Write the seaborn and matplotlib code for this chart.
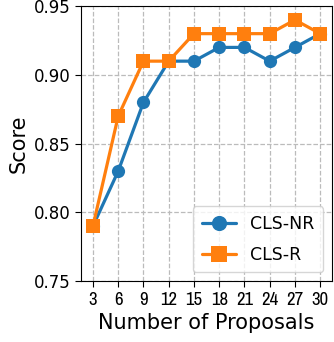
import pandas as pd
import matplotlib
matplotlib.use("Agg")
import matplotlib.pyplot as plt
import seaborn as sns
from matplotlib import font_manager

# ─── DATA ────────────────────────────────────────────────────────────────────
proposals = [3, 6, 9, 12, 15, 18, 21, 24, 27, 30]
cls_nr = [0.79, 0.83, 0.88, 0.91, 0.91, 0.92, 0.92, 0.91, 0.92, 0.93]
cls_r = [0.79, 0.87, 0.91, 0.91, 0.93, 0.93, 0.93, 0.93, 0.94, 0.93]
series_names = ["CLS-NR", "CLS-R"]
y_ticks = [0.75, 0.80, 0.85, 0.90, 0.95]

df = pd.DataFrame({
    "Number of Proposals": proposals * 2,
    "Score": cls_nr + cls_r,
    "Method": [series_names[0]] * len(proposals) + [series_names[1]] * len(proposals),
})

sns.set_style("ticks")
plt.rcParams["font.family"] = ["DejaVu Sans"]
plt.rcParams["text.color"] = "black"
plt.rcParams["axes.labelcolor"] = "black"

fig, ax = plt.subplots(figsize=(3.34, 3.42), dpi=100)
fig.subplots_adjust(left=0.243, right=0.994, top=0.982, bottom=0.178)

sns.lineplot(data=df, x="Number of Proposals", y="Score", hue="Method",
             style="Method", markers=["o", "s"], dashes=False,
             palette=["#1f77b4", "#ff7f0e"], linewidth=2.3, markersize=9.5,
             markeredgewidth=0, ax=ax)

ax.set_xticks(proposals)
ax.set_yticks(y_ticks)
ax.set_yticklabels([f"{v:.2f}" for v in y_ticks], fontsize=12)
ax.set_ylim(0.75, 0.95)
ax.set_xlim(1.6, 31.4)

# narrow font for the crowded x tick labels if available
narrow = [f.name for f in font_manager.fontManager.ttflist if "Narrow" in f.name]
xfam = narrow[0] if narrow else "DejaVu Sans"
ax.set_xticklabels([str(p) for p in proposals], fontsize=13.5 if narrow else 10, family=xfam)

ax.grid(True, linestyle="--", color="#bbbbbb", linewidth=0.9)
ax.set_xlabel("Number of Proposals", fontsize=15, color="black")
ax.set_ylabel("Score", fontsize=15, color="black")
for s in ax.spines.values():
    s.set_color("black")
ax.tick_params(colors="black", labelcolor="black", length=4)

leg = ax.legend(title=None, loc="lower right", fontsize=12.5, frameon=True,
                handlelength=2.0, borderpad=0.5, labelspacing=0.75, markerscale=1.15)
for t in leg.get_texts():
    t.set_color("black")

plt.savefig("out.png", dpi=100)
plt.close()
